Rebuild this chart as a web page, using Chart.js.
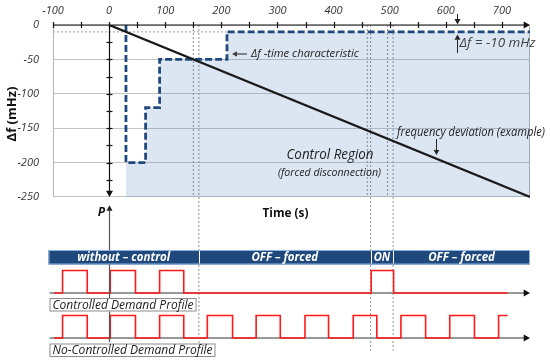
<!DOCTYPE html>
<html>
<head>
<meta charset="utf-8">
<script src="https://cdn.jsdelivr.net/npm/chart.js@4/dist/chart.umd.min.js"></script>
<style>
  html, body { margin: 0; padding: 0; background: #fff; overflow: hidden; }
  #chart { display: block; }
</style>
</head>
<body>
<canvas id="chart" width="550" height="361"></canvas>
<script>
// axis ticks
const xTicks = [-100, 0, 100, 200, 300, 400, 500, 600, 700];
const yTicks = [0, -50, -100, -150, -200, -250];

// frequency deviation (example)
const freqT = [0, 750];
const freqDf = [0, -250];

// df-time characteristic (step curve)
const charT = [30, 30, 65, 65, 90, 90, 210, 210, 750];
const charDf = [0, -200, -200, -120, -120, -50, -50, -10, -10];
const dfLimit = -10;

// dotted time markers (s)
const topMarks = [150, 160, 460, 466, 496, 506];
const lowMarks = [160, 466, 506];

// control phases
const phaseEdges = [-108, 160, 466, 506, 750];
const phaseLabels = ['without – control', 'OFF – forced', 'ON', 'OFF – forced'];

// demand profiles: switching instants (s), start low
const controlledEdges = [-83, -39, 2, 47, 90, 133, 467, 507];
const freeEdges = [-83, -39, 2, 47, 90, 133, 175, 220, 262, 305, 349, 391, 435, 477, 520, 564, 607, 651, 694];
const profileStart = -98, profileEnd = 710;

const FONT = '"Open Sans", "Noto Sans", sans-serif';

function wave(edges, base) {
    let pts = [{x: profileStart, y: base}];
    let lvl = 0;
    for (let e of edges) {
        lvl = 1 - lvl;
        pts.push({x: e, y: base + lvl});
    }
    pts.push({x: profileEnd, y: base + lvl});
    return pts;
}

const util = {
    arrow(ctx, x, y, dir, s) {
        s = s || 4;
        ctx.beginPath();
        if (dir === 'r') { ctx.moveTo(x, y); ctx.lineTo(x - s * 1.8, y - s); ctx.lineTo(x - s * 1.8, y + s); }
        if (dir === 'l') { ctx.moveTo(x, y); ctx.lineTo(x + s * 1.8, y - s); ctx.lineTo(x + s * 1.8, y + s); }
        if (dir === 'd') { ctx.moveTo(x, y); ctx.lineTo(x - s, y - s * 1.8); ctx.lineTo(x + s, y - s * 1.8); }
        if (dir === 'u') { ctx.moveTo(x, y); ctx.lineTo(x - s, y + s * 1.8); ctx.lineTo(x + s, y + s * 1.8); }
        ctx.closePath();
        ctx.fill();
    },
    line(ctx, x1, y1, x2, y2) {
        ctx.beginPath();
        ctx.moveTo(x1, y1);
        ctx.lineTo(x2, y2);
        ctx.stroke();
    },
    text(ctx, str, x, y, font, color, align, maxW) {
        ctx.font = font;
        ctx.fillStyle = color;
        ctx.textAlign = align || 'left';
        ctx.textBaseline = 'middle';
        if (maxW) ctx.fillText(str, x, y, maxW); else ctx.fillText(str, x, y);
    }
};

// wanted pixel geometry: -250 mHz line, profile zero line, px per profile unit
const geo = {bottomDf: 197, zeroP: 338, unitP: 22.5};

const deco = {
    id: 'deco',
    beforeDatasetsDraw(chart) {
        const {ctx, chartArea: a, scales: {x, y, yp}} = chart;
        ctx.save();
        // plot frame
        ctx.strokeStyle = '#b4b4b4';
        ctx.lineWidth = 1;
        util.line(ctx, a.left + 0.5, y.getPixelForValue(0), a.left + 0.5, y.getPixelForValue(-250));
        util.line(ctx, a.right - 0.5, y.getPixelForValue(0), a.right - 0.5, y.getPixelForValue(-250));
        // -10 mHz guide
        ctx.strokeStyle = '#a0a0a0';
        ctx.setLineDash([2, 2]);
        util.line(ctx, a.left, y.getPixelForValue(dfLimit), x.getPixelForValue(210), y.getPixelForValue(dfLimit));
        ctx.setLineDash([]);
        // profile baselines
        ctx.strokeStyle = '#333';
        ctx.fillStyle = '#111';
        ctx.lineWidth = 1.2;
        for (let b of [0, 2]) {
            let py = yp.getPixelForValue(b);
            util.line(ctx, x.getPixelForValue(-106), py, a.right - 4, py);
            util.arrow(ctx, a.right, py, 'r', 3.5);
        }
        ctx.restore();
    },
    afterDatasetsDraw(chart) {
        const {ctx, chartArea: a, scales: {x, y, yp}} = chart;
        ctx.save();
        ctx.strokeStyle = '#111';
        ctx.fillStyle = '#111';
        ctx.lineWidth = 1.2;

        // time axis on top
        let ty = y.getPixelForValue(0);
        util.line(ctx, a.left, ty, a.right - 4, ty);
        util.arrow(ctx, a.right, ty, 'r', 3.5);
        for (let t = -100; t <= 700; t += 50) {
            let px = Math.round(x.getPixelForValue(t)) + 0.5;
            util.line(ctx, px, ty - 3, px, ty + 3);
        }

        // zero axis (df)
        let x0 = Math.round(x.getPixelForValue(0)) + 0.5;
        let yb = y.getPixelForValue(-250);
        util.line(ctx, x0, ty, x0, yb - 5);
        util.arrow(ctx, x0, yb, 'd', 3.5);
        for (let v = -25; v > -250; v -= 25) {
            let py = Math.round(y.getPixelForValue(v)) + 0.5;
            util.line(ctx, x0 - 3, py, x0 + 3, py);
        }

        // P axis
        ctx.strokeStyle = '#555';
        ctx.fillStyle = '#222';
        util.line(ctx, x0, yp.getPixelForValue(-0.18), x0, yp.getPixelForValue(5.9) + 5);
        util.arrow(ctx, x0, yp.getPixelForValue(5.9), 'u', 3);

        // control phase bar
        let h1 = yp.getPixelForValue(3);
        let barTop = h1 - 20.5, barH = 14.5;
        let bx0 = x.getPixelForValue(phaseEdges[0]);
        let bx1 = x.getPixelForValue(phaseEdges[phaseEdges.length - 1]);
        ctx.fillStyle = '#1f497d';
        ctx.fillRect(bx0, barTop, bx1 - bx0, barH);
        ctx.strokeStyle = '#8db3e2';
        ctx.lineWidth = 1;
        ctx.strokeRect(bx0 + 0.5, barTop + 0.5, bx1 - bx0 - 1, barH - 1);
        ctx.strokeStyle = '#ffffff';
        for (let i = 1; i < phaseEdges.length - 1; ++i) {
            let px = Math.round(x.getPixelForValue(phaseEdges[i])) + 0.5;
            util.line(ctx, px, barTop + 1, px, barTop + barH - 1);
        }
        for (let i = 0; i < phaseLabels.length; ++i) {
            let l = x.getPixelForValue(phaseEdges[i]), r = x.getPixelForValue(phaseEdges[i + 1]);
            util.text(ctx, phaseLabels[i], (l + r) / 2, barTop + barH / 2 + 0.5,
                'italic bold 11.5px ' + FONT, '#ffffff', 'center', r - l - 6);
        }

        // profile label boxes
        let boxes = [
            {label: 'Controlled Demand Profile', top: yp.getPixelForValue(2) + 5, w: 147},
            {label: 'No-Controlled Demand Profile', top: yp.getPixelForValue(0) + 5.5, w: 166}
        ];
        for (let b of boxes) {
            ctx.fillStyle = '#ffffff';
            ctx.fillRect(bx0 + 1, b.top, b.w, 13.5);
            ctx.strokeStyle = '#8c8c8c';
            ctx.strokeRect(bx0 + 1.5, b.top + 0.5, b.w - 1, 12.5);
            util.text(ctx, b.label, bx0 + 4, b.top + 7.2, 'italic 12.5px ' + FONT, '#1a1a1a', 'left', b.w - 6);
        }

        // annotations
        ctx.fillStyle = '#222';
        ctx.strokeStyle = '#222';
        ctx.lineWidth = 1;
        let xa = Math.round(x.getPixelForValue(620)) + 0.5;
        util.line(ctx, xa, 14, xa, ty - 6);
        util.arrow(ctx, xa, ty - 0.5, 'd', 3);
        let yl = y.getPixelForValue(dfLimit);
        util.line(ctx, xa, yl + 8, xa, 53);
        util.arrow(ctx, xa, yl + 2.5, 'u', 3);
        util.text(ctx, 'Δf = -10 mHz', xa + 2, 43, 'italic 13.5px ' + FONT, '#404040', 'left', 76);

        let xs = x.getPixelForValue(210);
        util.line(ctx, xs + 10, 54, xs + 20, 54);
        util.arrow(ctx, xs + 5, 54, 'l', 2.8);
        util.text(ctx, 'Δf -time characteristic', xs + 24, 54, 'italic 11.5px ' + FONT, '#222', 'left', 108);

        util.text(ctx, 'frequency deviation (example)', 397, 133, 'italic 12px ' + FONT, '#222', 'left', 148);
        let xf = Math.round(x.getPixelForValue(582)) + 0.5;
        util.line(ctx, xf, 139, xf, 150);
        util.arrow(ctx, xf, 155, 'd', 2.8);

        util.text(ctx, 'Control Region', 330, 155, 'italic 15px ' + FONT, '#222', 'center', 87);
        util.text(ctx, '(forced disconnection)', 329.5, 173, 'italic 11.5px ' + FONT, '#222', 'center', 103);

        util.text(ctx, 'Time (s)', 285.5, 213, 'bold 12.5px ' + FONT, '#111', 'center', 46);
        util.text(ctx, 'P', 101.5, 213, 'italic bold 12px ' + FONT, '#111', 'center');

        // y axis title
        ctx.save();
        ctx.translate(12.5, 114);
        ctx.rotate(-Math.PI / 2);
        util.text(ctx, 'Δf (mHz)', 0, 0, 'bold 13px ' + FONT, '#111', 'center', 58);
        ctx.restore();

        ctx.restore();
    }
};

const app = {
    chart: null,
    datasets() {
        let sets = [
            {
                label: 'frequency deviation',
                data: freqT.map((t, i) => ({x: t, y: freqDf[i]})),
                yAxisID: 'y',
                borderColor: '#1a1a1a',
                borderWidth: 2.3,
                pointRadius: 0
            },
            {
                label: 'df-time characteristic',
                data: charT.map((t, i) => ({x: t, y: charDf[i]})),
                yAxisID: 'y',
                borderColor: '#1f497d',
                borderWidth: 2.8,
                borderDash: [7, 3],
                pointRadius: 0,
                fill: {value: -250},
                backgroundColor: 'rgba(79,129,189,0.2)'
            },
            {
                label: 'controlled',
                data: wave(controlledEdges, 2),
                yAxisID: 'yp',
                stepped: true,
                borderColor: '#ff1a1a',
                borderWidth: 1.6,
                pointRadius: 0,
                clip: false
            },
            {
                label: 'no-controlled',
                data: wave(freeEdges, 0),
                yAxisID: 'yp',
                stepped: true,
                borderColor: '#ff1a1a',
                borderWidth: 1.6,
                pointRadius: 0,
                clip: false
            }
        ];
        for (let t of topMarks) {
            sets.push({data: [{x: t, y: 0}, {x: t, y: -250}], yAxisID: 'y',
                borderColor: '#8f8f8f', borderWidth: 1, borderDash: [2, 2], pointRadius: 0});
        }
        for (let t of lowMarks) {
            sets.push({data: [{x: t, y: 6.27}, {x: t, y: -0.55}], yAxisID: 'yp',
                borderColor: '#8f8f8f', borderWidth: 1, borderDash: [2, 2], pointRadius: 0, clip: false});
        }
        return sets;
    },
    calibrate() {
        // fit the value ranges to the chart area so the panels land where wanted
        let a = app.chart.chartArea;
        let o = app.chart.options.scales;
        let pxPerMHz = (geo.bottomDf - a.top) / 250;
        o.y.min = -(a.bottom - a.top) / pxPerMHz;
        o.yp.max = (geo.zeroP - a.top) / geo.unitP;
        o.yp.min = -(a.bottom - geo.zeroP) / geo.unitP;
        app.chart.update();
    },
    load() {
        let ctx = document.getElementById('chart');
        app.chart = new Chart(ctx, {
            type: 'line',
            data: {datasets: app.datasets()},
            options: {
                responsive: false,
                animation: false,
                devicePixelRatio: 1,
                layout: {padding: {left: 0, right: 20, top: 0, bottom: 3}},
                plugins: {legend: {display: false}, tooltip: {enabled: false}},
                scales: {
                    x: {
                        type: 'linear',
                        position: 'top',
                        min: -100,
                        max: 750,
                        afterBuildTicks: s => { s.ticks = xTicks.map(v => ({value: v})); },
                        afterFit: s => { s.height = 25; },
                        grid: {display: false, drawTicks: false},
                        border: {display: false},
                        ticks: {
                            padding: 8,
                            color: '#333',
                            maxRotation: 0,
                            font: {family: FONT, size: 11, style: 'italic'}
                        }
                    },
                    y: {
                        type: 'linear',
                        position: 'left',
                        min: -484,
                        max: 0,
                        afterBuildTicks: s => { s.ticks = yTicks.map(v => ({value: v})); },
                        afterFit: s => { s.width = 53; },
                        grid: {color: '#c4c4c4', lineWidth: 1, drawTicks: false},
                        border: {display: false},
                        ticks: {
                            padding: 14,
                            color: '#333',
                            font: {family: FONT, size: 11, style: 'italic'}
                        }
                    },
                    yp: {
                        type: 'linear',
                        display: false,
                        min: -0.889,
                        max: 13.91
                    }
                }
            },
            plugins: [deco]
        });
        app.calibrate();
    }
};

app.load();
</script>
</body>
</html>
